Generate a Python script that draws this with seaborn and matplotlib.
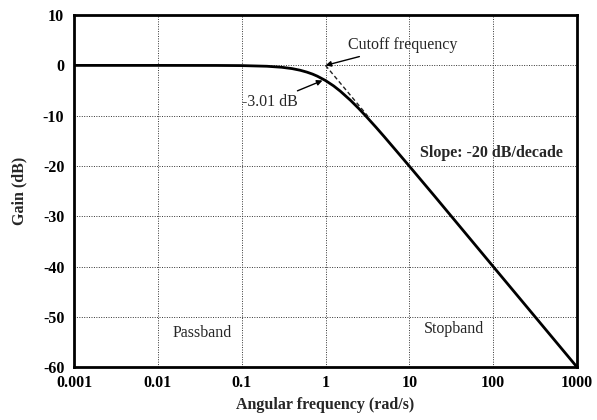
import matplotlib
matplotlib.use("Agg")
import matplotlib.pyplot as plt
import seaborn as sns
import pandas as pd

# values
freq = [0.001, 0.01, 0.05, 0.1, 0.2, 0.3, 0.4, 0.5, 0.6, 0.7, 0.8, 1.0, 1.25, 1.5,
        2.0, 2.5, 3.0, 4.0, 5.0, 7.0, 10.0, 20.0, 100.0, 1000.0]
gain = [0.0, 0.0, -0.01, -0.04, -0.17, -0.37, -0.64, -0.97, -1.34, -1.73, -2.15, -3.01,
        -4.08, -5.12, -6.99, -8.6, -10.0, -12.3, -14.15, -17.0, -20.04, -26.0, -40.0, -60.0]
asym_freq = [1.0, 3.2]
asym_gain = [0.0, -10.1]
xticks = [0.001, 0.01, 0.1, 1, 10, 100, 1000]
xtick_labels = ["0.001", "0.01", "0.1", "1", "10", "100", "1000"]
yticks = [10, 0, -10, -20, -30, -40, -50, -60]
ytick_labels = ["10", "0", "-10", "-20", "-30", "-40", "-50", "-60"]

sns.set_style("white")
plt.rcParams["font.family"] = ["Liberation Serif", "DejaVu Serif"]
plt.rcParams["axes.unicode_minus"] = False

fig = plt.figure(figsize=(5.97, 4.2), dpi=100)
ax = fig.add_axes([0.124, 0.126, 0.8425, 0.838])

df = pd.DataFrame({"freq": freq, "gain": gain})
sns.lineplot(data=df, x="freq", y="gain", ax=ax, color="black", linewidth=2.0)
ax.plot(asym_freq, asym_gain, color="#222222", linestyle=(0, (3, 2)), linewidth=1.0)

ax.set_xscale("log")
ax.set_xlim(0.001, 1000)
ax.set_ylim(-60, 10)
ax.set_xticks(xticks)
ax.set_xticklabels(xtick_labels)
ax.set_yticks(yticks)
ax.set_yticklabels(ytick_labels)
ax.minorticks_off()
ax.tick_params(axis="both", labelsize=11.5, direction="in", length=3, width=1.2,
               colors="black")
ax.tick_params(axis="x", pad=6)
ax.tick_params(axis="y", pad=7)
for lab in ax.get_xticklabels() + ax.get_yticklabels():
    lab.set_fontweight("bold")
ax.grid(True, which="major", color="#333333", linestyle=(0, (1, 1.5)), linewidth=0.7)
for s in ax.spines.values():
    s.set_color("black")
    s.set_linewidth(2.0)

ax.set_xlabel("Angular frequency (rad/s)", fontsize=11.5, fontweight="bold", labelpad=4)
ax.set_ylabel("Gain (dB)", fontsize=11.5, fontweight="bold", labelpad=11)

ax.annotate("Cutoff frequency", xy=(1.0, 0.0), xytext=(1.85, 4.0), fontsize=11.5,
            va="center", ha="left",
            arrowprops=dict(arrowstyle="-|>", color="black", lw=1.0,
                            mutation_scale=8, shrinkA=0, shrinkB=0))
ax.annotate("-3.01 dB", xy=(0.92, -3.0), xytext=(0.47, -7.3), fontsize=11.5,
            va="center", ha="right",
            arrowprops=dict(arrowstyle="-|>", color="black", lw=1.0,
                            mutation_scale=8, shrinkA=0, shrinkB=0))
ax.text(13.4, -17.4, "Slope: -20 dB/decade", fontsize=11.5, fontweight="bold",
        va="center", ha="left")
ax.text(0.0337, -53.2, "Passband", fontsize=11.5, va="center", ha="center")
ax.text(33.8, -52.5, "Stopband", fontsize=11.5, va="center", ha="center")

fig.savefig("out.png", dpi=100)
